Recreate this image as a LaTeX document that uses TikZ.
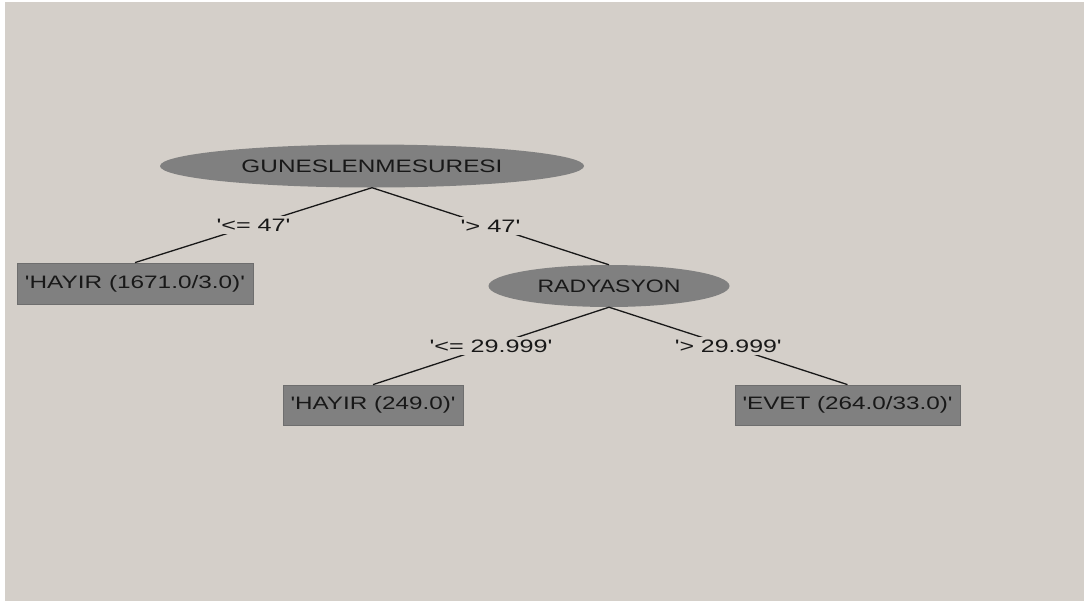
\documentclass[tikz,border=0pt]{standalone}
\usepackage{fontspec}
\setmainfont{Liberation Sans}
\usetikzlibrary{shapes.geometric}
\definecolor{panelbg}{RGB}{212,207,201}
\definecolor{nodegray}{RGB}{128,128,128}
\definecolor{boxedge}{RGB}{110,110,110}
\definecolor{inkdark}{RGB}{24,24,24}
% set a text to a given width, keeping its height
\newcommand{\fitw}[2]{\resizebox{#1}{\height}{#2}}
% straight single quote
\newcommand{\sq}{\textquotesingle}
\begin{document}
\begin{tikzpicture}[x=1pt,y=-1pt,
  every node/.style={font=\fontsize{18pt}{20pt}\selectfont, text=inkdark},
  attr/.style={ellipse, fill=nodegray, inner sep=0pt},
  leaf/.style={rectangle, fill=nodegray, draw=boxedge, line width=0.8pt, inner sep=0pt},
  edgelbl/.style={fill=panelbg, inner sep=3pt, midway},
  edge/.style={draw=inkdark, line width=1.3pt}]
  \useasboundingbox (0,0) rectangle (1086,603);
  \fill[white] (0,0) rectangle (1086,603);
  \fill[panelbg] (5,2) rectangle (1084,601);

  % decision nodes
  \node[attr, minimum width=424pt, minimum height=43pt] (root) at (372,166) {\fitw{261pt}{GUNESLENMESURESI}};
  \node[attr, minimum width=241pt, minimum height=42pt] (rad) at (609,286) {\fitw{143pt}{RADYASYON}};

  % leaves
  \node[leaf, minimum width=236pt, minimum height=41pt] (hayirA) at (135,283.5) {\fitw{220pt}{\sq HAYIR (1671.0/3.0)\sq}};
  \node[leaf, minimum width=180pt, minimum height=40pt] (hayirB) at (373,405) {\fitw{165pt}{\sq HAYIR (249.0)\sq}};
  \node[leaf, minimum width=225pt, minimum height=40pt] (evet) at (847.5,405) {\fitw{210pt}{\sq EVET (264.0/33.0)\sq}};

  % branches with their split labels
  \draw[edge] (root.south) -- node[edgelbl] {\fitw{74pt}{\sq<= 47\sq}} (hayirA.north);
  \draw[edge] (root.south) -- node[edgelbl] {\fitw{60pt}{\sq> 47\sq}} (rad.north);
  \draw[edge] (rad.south) -- node[edgelbl] {\fitw{123pt}{\sq<= 29.999\sq}} (hayirB.north);
  \draw[edge] (rad.south) -- node[edgelbl] {\fitw{107pt}{\sq> 29.999\sq}} (evet.north);
\end{tikzpicture}
\end{document}
